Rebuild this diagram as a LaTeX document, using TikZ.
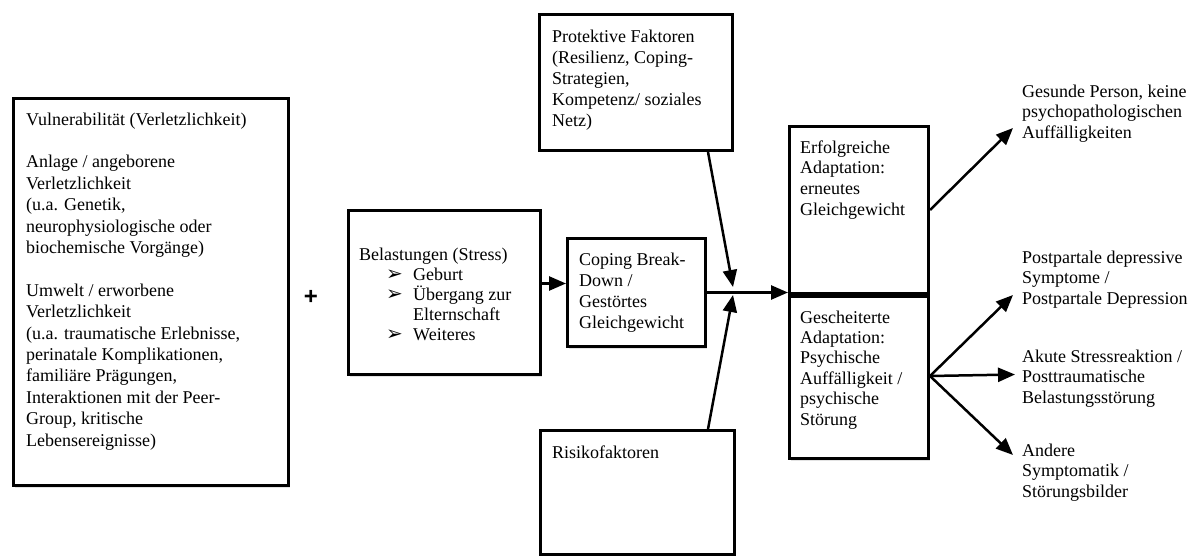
\documentclass[tikz,border=0pt]{standalone}
\usepackage{fontspec}
\setmainfont{Liberation Serif}
\newfontfamily\dingfont{DejaVu Sans}
\newfontfamily\plusfont{Liberation Sans}
\usetikzlibrary{arrows.meta,shadows}
\begin{document}
\begin{tikzpicture}[x=1pt,y=-1pt,
  box/.style={draw=black, line width=3pt, fill=white, rectangle, anchor=north west, inner sep=0pt,
    drop shadow={opacity=0.22, shadow xshift=1.5pt, shadow yshift=-2pt}},
  txt/.style={anchor=north west, inner sep=0pt, align=left, font=\fontsize{18}{21}\selectfont},
  arr/.style={line width=2.5pt, -{Triangle[length=17pt,width=14pt]}}]
\useasboundingbox (0,0) rectangle (1198,556);

% boxes
\node[box, minimum width=275pt, minimum height=387pt] (vul) at (12,97) {};
\node[box, minimum width=192pt, minimum height=164pt] (bel) at (347,209) {};
\node[box, minimum width=138pt, minimum height=108pt] (cop) at (566,237) {};
\node[box, minimum width=193pt, minimum height=136pt] (prot) at (538,13) {};
\node[box, minimum width=194pt, minimum height=124pt] (risk) at (539,429) {};
\node[box, minimum width=139pt, minimum height=167pt] (erf) at (788,125) {};
\node[box, minimum width=139pt, minimum height=165pt] (ges) at (788,292) {};
\draw[line width=5pt] (erf.south west) -- (erf.south east);

% texts in boxes
\node[txt, font=\fontsize{18}{21.4}\selectfont] (vultxt) at (26,112.5) {Vulnerabilität (Verletzlichkeit)\\[21.4pt]
Anlage / angeborene\\ Verletzlichkeit\\ (u.a. Genetik,\\ neurophysiologische oder\\ biochemische Vorgänge)\\[21.4pt]
Umwelt / erworbene\\ Verletzlichkeit\\ (u.a. traumatische Erlebnisse,\\ perinatale Komplikationen,\\ familiäre Prägungen,\\ Interaktionen mit der Peer-\\ Group, kritische\\ Lebensereignisse)};

\node[txt, font=\fontsize{18}{20}\selectfont] (beltxt) at (359,247.5) {Belastungen (Stress)\\
\hspace*{27pt}\makebox[27pt][l]{\dingfont\bfseries\fontsize{20}{20}\selectfont ➢}Geburt\\
\hspace*{27pt}\makebox[27pt][l]{\dingfont\bfseries\fontsize{20}{20}\selectfont ➢}Übergang zur\\
\hspace*{54pt}Elternschaft\\
\hspace*{27pt}\makebox[27pt][l]{\dingfont\bfseries\fontsize{20}{20}\selectfont ➢}Weiteres};

\node[txt] (coptxt) at (579,252.5) {Coping Break-\\ Down /\\ Gestörtes\\ Gleichgewicht};
\node[txt] (prottxt) at (552,29.5) {Protektive Faktoren\\ (Resilienz, Coping-\\ Strategien,\\ Kompetenz/ soziales\\ Netz)};
\node[txt] (risktxt) at (552,445.5) {Risikofaktoren};
\node[txt, font=\fontsize{18}{20.6}\selectfont] (erftxt) at (800,140.5) {Erfolgreiche\\ Adaptation:\\ erneutes\\ Gleichgewicht};
\node[txt, font=\fontsize{18}{20.4}\selectfont] (gestxt) at (800,310.5) {Gescheiterte\\ Adaptation:\\ Psychische\\ Auffälligkeit /\\ psychische\\ Störung};

% plus
\node[inner sep=0pt, font=\plusfont\bfseries\fontsize{24}{24}\selectfont] (plus) at (311,297) {+};

% outcome texts
\node[txt, font=\fontsize{18}{20.6}\selectfont] (o1) at (1022,84.5) {Gesunde Person, keine\\ psychopathologischen\\ Auffälligkeiten};
\node[txt, font=\fontsize{18}{20.6}\selectfont] (o2) at (1022,250.5) {Postpartale depressive\\ Symptome /\\ Postpartale Depression};
\node[txt, font=\fontsize{18}{20.6}\selectfont] (o3) at (1022,349.5) {Akute Stressreaktion /\\ Posttraumatische\\ Belastungsstörung};
\node[txt, font=\fontsize{18}{20.6}\selectfont] (o4) at (1022,443.5) {Andere\\ Symptomatik /\\ Störungsbilder};

% connector points
\coordinate (mtop) at (733,287);
\coordinate (mbot) at (733,295);
\coordinate (t1) at (1013,128);
\coordinate (t2) at (1013,295);
\coordinate (t3) at (1015,374.5);
\coordinate (t4) at (1013,455);

% connectors
\draw[arr] ([yshift=9pt]bel.east) -- ([yshift=9pt]bel.east -| cop.west);
\draw[line width=2.5pt] (cop.east) -- (cop.east -| mtop);
\draw[arr] (cop.east -| mtop) -- (cop.east -| erf.west);
\draw[arr] ([xshift=-26pt]prot.south east) -- (mtop);
\draw[arr] ([xshift=-28pt]risk.north east) -- (mbot);
\draw[arr] (erf.east) -- (t1);
\draw[arr] (ges.east) -- (t2);
\draw[arr] (ges.east) -- (t3);
\draw[arr] (ges.east) -- (t4);
\end{tikzpicture}
\end{document}
